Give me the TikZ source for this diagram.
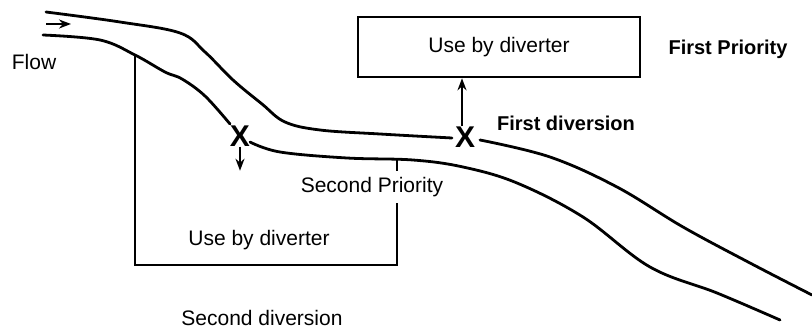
\documentclass[tikz,border=0pt]{standalone}
\usepackage{fontspec}
\setmainfont{Liberation Sans}
\usetikzlibrary{arrows.meta}

\begin{document}
\begin{tikzpicture}[
  x=0.5pt,y=-0.5pt,
  bank/.style={line width=1.4pt,line cap=round},
  wall/.style={line width=1.3pt},
  txt/.style={font=\fontsize{10.5}{12}\selectfont,inner sep=1pt},
  prio/.style={font=\fontsize{10}{12}\selectfont\bfseries,inner sep=1pt},
  cross/.style={font=\fontsize{15}{15}\selectfont\bfseries,inner sep=0pt},
  usebox/.style={draw,wall,minimum width=141pt,minimum height=30pt,
                 font=\fontsize{10.5}{12}\selectfont},
  arr/.style={-{Stealth[length=6pt,width=4.5pt]},line width=1pt}
]
\useasboundingbox (0,0) rectangle (812,331);
% river banks
\draw[bank] plot[smooth,tension=0.6] coordinates {(46,12) (120,22) (180,33)
  (205,52) (233,80) (262,104) (285,122) (320,130) (380,134) (452,138)};
\draw[bank] plot[smooth,tension=0.6] coordinates {(480,140) (550,157) (617,187)
  (683,227) (750,263) (812,295)};
\draw[bank] plot[smooth,tension=0.6] coordinates {(43,35) (100,40) (135,55)
  (165,72) (182,79) (205,96) (230,124)};
\draw[bank] plot[smooth,tension=0.6] coordinates {(250,142) (280,152) (347,158)
  (413,160) (463,167) (517,183) (583,217) (650,267) (717,293) (780,320)};
\draw[arr] (46,24) -- (71,24);
\node[txt] (flow) at (34,62) {Flow};

% diversion points
\node[cross] (xone) at (465,137) {X};
\node[cross] (xtwo) at (240,136) {X};

% first diversion
\node[usebox] (useone) at (499,47) {Use by diverter};
\draw[arr] (xone.north -| 462,0) -- (462,0 |- useone.south);
\node[prio] (firstprio) at (728,49) {First Priority};
\node[prio] (firstdiv) at (566,123) {First diversion};

% second diversion
\draw[arr] (xtwo.south) -- ++(0,24);
\draw[wall] (135,55) -- (135,265) -- (397,265) -- (397,160);
\node[txt,fill=white,inner ysep=3pt] (secprio) at (372,187) {Second Priority};
\node[txt] (usetwo) at (259,240) {Use by diverter};
\node[txt] (secdiv) at (262,318) {Second diversion};
\end{tikzpicture}
\end{document}
